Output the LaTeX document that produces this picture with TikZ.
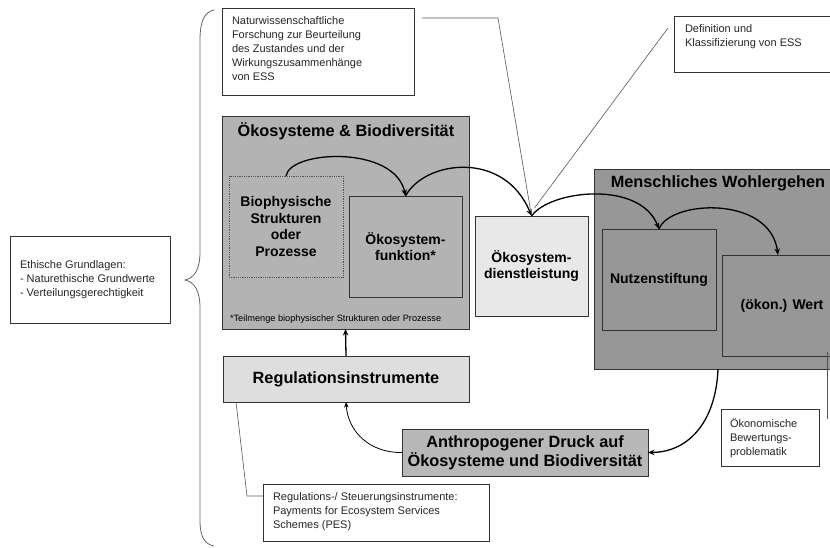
\documentclass[tikz,border=0pt]{standalone}
\usepackage{fontspec}
\setmainfont{Liberation Sans}
\usetikzlibrary{arrows.meta,calc}

\definecolor{ecogray}{HTML}{B3B3B3}
\definecolor{welfgray}{HTML}{979797}
\definecolor{servgray}{HTML}{E8E8E8}
\definecolor{reggray}{HTML}{DEDEDE}
\definecolor{pressgray}{HTML}{B8B8B8}
\definecolor{edgegray}{HTML}{333333}
\definecolor{leadgray}{HTML}{555555}

\newcommand\fontBig{\fontsize{16.3pt}{19pt}\selectfont\bfseries}
\newcommand\fontMid{\fontsize{14pt}{16.8pt}\selectfont\bfseries}
\newcommand\fontNote{\fontsize{11pt}{14pt}\selectfont}
\newcommand\fontFoot{\fontsize{9.2pt}{11pt}\selectfont}

\begin{document}
\begin{tikzpicture}[x=1pt,y=-1pt,
  every node/.style={inner sep=0pt,outer sep=0pt},
  panel/.style={draw=edgegray,line width=0.8pt,align=center},
  notebox/.style={draw=edgegray,fill=white,line width=0.6pt},
  notetext/.style={align=left,font=\fontNote,text=black!85},
  flow/.style={line width=1.3pt,-{Stealth[length=6.5pt,width=5.5pt]}},
  flowthin/.style={line width=0.8pt,-{Stealth[length=5.5pt,width=4.5pt]}},
  lead/.style={draw=leadgray,line width=0.6pt},
]
\useasboundingbox (0,0) rectangle (830,547);
\clip (0,0) rectangle (830,547);

% --- ecosystem block ---
\node[panel,fill=ecogray,minimum width=247pt,minimum height=213pt] (eco) at (345.5,222.5) {};
\node[font=\fontBig] (ecotitle) at (346,131) {Ökosysteme \& Biodiversität};
\node[panel,fill=ecogray,draw=leadgray,densely dotted,line width=0.7pt,
      minimum width=114pt,minimum height=101pt,font=\fontMid] (bio) at (286,226.5)
      {Biophysische\\Strukturen\\oder\\Prozesse};
\node[panel,fill=ecogray,minimum width=113pt,minimum height=101pt,font=\fontMid] (fun) at (405.5,246.5)
      {Ökosystem-\\funktion*};
\node[font=\fontFoot,anchor=west] (foot) at (230,319) {*Teilmenge biophysischer Strukturen oder Prozesse};

% --- ecosystem service ---
\node[panel,fill=servgray,minimum width=113pt,minimum height=100pt,font=\fontMid] (dl) at (531.5,266)
      {Ökosystem-\\dienstleistung};

% --- human well-being block ---
\node[panel,fill=welfgray,minimum width=248pt,minimum height=200pt] (welf) at (718,269) {};
\node[font=\fontBig] (welftitle) at (718,183) {Menschliches Wohlergehen};
\node[panel,fill=welfgray,minimum width=114pt,minimum height=101pt,font=\fontMid] (nutz) at (659,279.5)
      {Nutzenstiftung};
\node[panel,fill=welfgray,minimum width=120pt,minimum height=101pt,font=\fontMid] (wert) at (782,305.5)
      {(ökon.) Wert};

% --- regulation and pressure ---
\node[panel,fill=reggray,minimum width=246pt,minimum height=46pt,font=\fontBig] (reg) at (346,379)
      {Regulationsinstrumente};
\node[panel,fill=pressgray,minimum width=246pt,minimum height=47pt,font=\fontBig] (press) at (525,452.5)
      {Anthropogener Druck auf\\Ökosysteme und Biodiversität};

% --- annotation boxes ---
\node[notebox,minimum width=192pt,minimum height=87pt] (natur) at (318,51.5) {};
\node[notetext,anchor=north west] (naturtxt) at ($(natur.north west)+(10,9)$)
      {Naturwissenschaftliche\\Forschung zur Beurteilung\\des Zustandes und der\\Wirkungszusammenhänge\\von ESS};

\node[notebox,minimum width=176pt,minimum height=56pt] (def) at (762,44) {};
\node[notetext,anchor=north west] (deftxt) at ($(def.north west)+(11,9)$)
      {Definition und\\Klassifizierung von ESS};

\node[notebox,minimum width=160pt,minimum height=87pt] (eth) at (90,279.5) {};
\node[notetext,anchor=west] (ethtxt) at ($(eth.west)+(10,0)$)
      {Ethische Grundlagen:\\- Naturethische Grundwerte\\- Verteilungsgerechtigkeit};

\node[notebox,minimum width=226pt,minimum height=57pt] (pes) at (376,512.5) {};
\node[notetext,anchor=north west] (pestxt) at ($(pes.north west)+(10,9)$)
      {Regulations-/ Steuerungsinstrumente:\\Payments for Ecosystem Services\\Schemes (PES)};

\node[notebox,minimum width=98pt,minimum height=57pt] (oek) at (770,437.5) {};
\node[notetext,anchor=north west] (oektxt) at ($(oek.north west)+(9,9)$)
      {Ökonomische\\Bewertungs-\\problematik};

% --- leader lines ---
\coordinate (esspt) at ($(dl.north)+(-1,-6)$);
\coordinate (naturlead) at ($(natur.north east)+(8,10)$);
\coordinate (deflead) at ($(def.north west)+(-6,12)$);
\coordinate (reglead) at ($(reg.south west)+(13,0)$);
\coordinate (oeklead) at ($(wert.south east)+(-15,-4)$);
\coordinate (oekleadend) at (827,419);
\draw[lead] (naturlead) -- (498,18) -- (esspt);
\draw[lead] (deflead) -- ($(esspt)+(4,-2)$);
\draw[lead] (reglead) -- (247,496) -- ($(pes.north west)+(0,12)$);
\draw[lead] (oeklead) -- (oekleadend);

% --- brace grouping the annotations ---
\draw[draw=black!60,line width=0.8pt]
  (214,10) .. controls (205,12) and (200,20) .. (200,40) -- (200,252)
  .. controls (200,270) and (194,278) .. (185,280)
  .. controls (194,282) and (200,290) .. (200,308) -- (200,520)
  .. controls (200,538) and (205,544) .. (214,546);

% --- flows ---
\draw[flow] (bio.north) .. controls (290,150) and (395,145) .. (fun.north);
\draw[flow] (fun.north) .. controls (425,160) and (505,150) .. (dl.north);
\draw[flow] (dl.north) .. controls (550,190) and (640,180) .. (nutz.north);
\draw[flow] (nutz.north) .. controls (670,200) and (770,195) .. ($(wert.north)+(-4,0)$);
\draw[flow] (welf.south) .. controls (716,420) and (690,452) .. (press.east);
\draw[flowthin] (press.west) .. controls (370,453) and (348,432) .. (reg.south);
\draw[flow] (reg.north) -- (eco.south);
\end{tikzpicture}
\end{document}
